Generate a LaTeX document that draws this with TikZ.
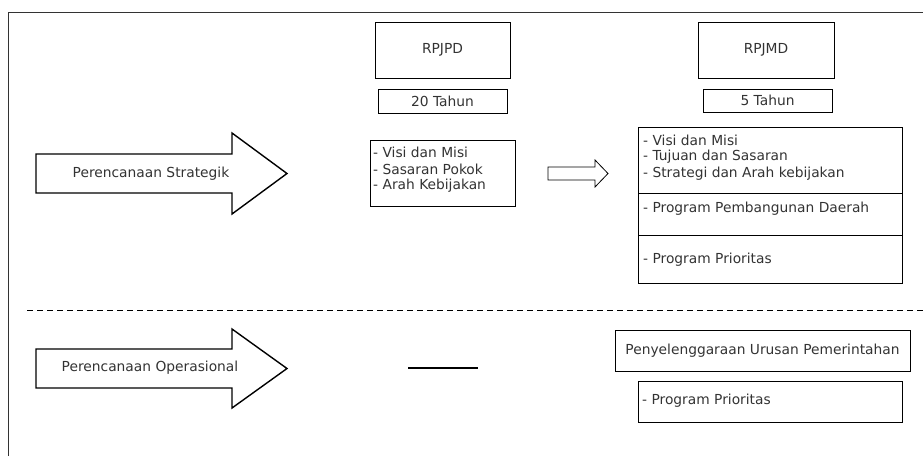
\documentclass[tikz,border=0pt]{standalone}
\usepackage{fontspec}
\setmainfont{DejaVu Sans}
\begin{document}
\begin{tikzpicture}[x=1pt,y=-1pt,
  box/.style={draw,line width=0.9pt},
  txt/.style={font=\fontsize{13.8}{15}\selectfont,inner sep=0pt,text=black!80},
  bigarrow/.style={draw,line width=1.4pt,line join=miter}]
\useasboundingbox (0,0) rectangle (923,456);
% frame
\draw[line width=1pt,black!80] (8,456) -- (8,12) -- (923,12);
% RPJPD column
\draw[box] (375,22) rectangle (510,78);
\node[txt] (rpjpd) at (442.5,50) {RPJPD};
\draw[box] (378,89) rectangle (507,113);
\node[txt] (t20) at (442.5,101) {20 Tahun};
\draw[box] (370,140) rectangle (515,206);
\node[txt,anchor=west] (l1) at (373,152) {- Visi dan Misi};
\node[txt,anchor=west] (l2) at (373,169) {- Sasaran Pokok};
\node[txt,anchor=west] (l3) at (373,186) {- Arah Kebijakan};
% small arrow
\draw[line width=0.8pt] (548,167) -- (595,167) -- (595,160) -- (608,173.5) -- (595,187) -- (595,180) -- (548,180) -- cycle;
% RPJMD column
\draw[box] (698,22) rectangle (834,78);
\node[txt] (rpjmd) at (766,50) {RPJMD};
\draw[box] (703,89) rectangle (832,112);
\node[txt] (t5) at (767.5,100.5) {5 Tahun};
\draw[box] (638,127) rectangle (902,283);
\draw[line width=0.9pt] (638,193) -- (902,193);
\draw[line width=0.9pt] (638,235) -- (902,235);
\node[txt,anchor=west] (m1) at (643,140) {- Visi dan Misi};
\node[txt,anchor=west] (m2) at (643,157) {- Tujuan dan Sasaran};
\node[txt,anchor=west] (m3) at (643,174) {- Strategi dan Arah kebijakan};
\node[txt,anchor=west] (m4) at (643,209) {- Program Pembangunan Daerah};
\node[txt,anchor=west] (m5) at (643,260) {- Program Prioritas};
% big arrows
\draw[bigarrow] (36,154) -- (232,154) -- (232,133) -- (287,173.5) -- (232,214) -- (232,193) -- (36,193) -- cycle;
\node[txt] (ps) at (151,174) {Perencanaan Strategik};
\draw[bigarrow] (36,349) -- (232,349) -- (232,329) -- (287,368.5) -- (232,408) -- (232,388) -- (36,388) -- cycle;
\node[txt] (po) at (150,368) {Perencanaan Operasional};
% dashed separator
\draw[dashed,line width=0.7pt,dash pattern=on 6pt off 4pt] (27,310) -- (923,310);
% thick line
\draw[line width=1.8pt] (408,368) -- (478,368);
% operational boxes
\draw[box] (615,330) rectangle (910,371);
\node[txt] (pu) at (762.5,350.5) {Penyelenggaraan Urusan Pemerintahan};
\draw[box] (638,381) rectangle (902,422);
\node[txt,anchor=west] (pp) at (642,401) {- Program Prioritas};
\end{tikzpicture}
\end{document}
